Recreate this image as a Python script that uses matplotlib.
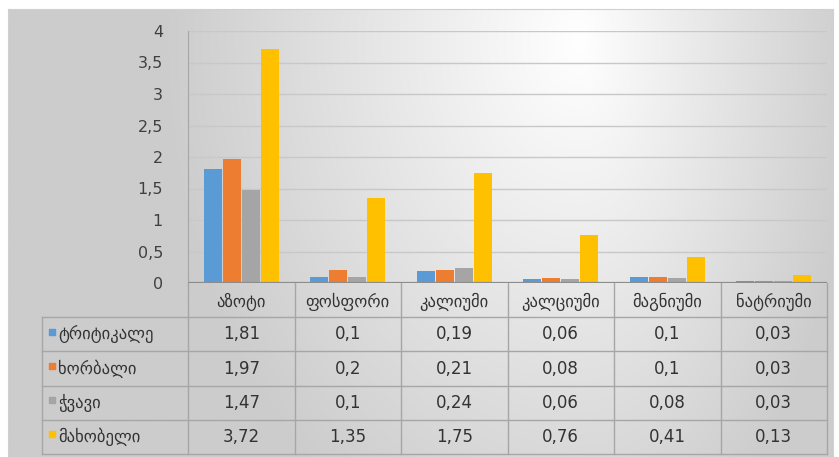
import numpy as np
import matplotlib
matplotlib.use('Agg')
import matplotlib.pyplot as plt

plt.rcParams['font.family'] = ['DejaVu Sans']

categories = ['აზოტი', 'ფოსფორი', 'კალიუმი', 'კალციუმი', 'მაგნიუმი', 'ნატრიუმი']
series_names = ['ტრიტიკალე', 'ხორბალი', 'ჭვავი', 'მახობელი']
triticale = [1.81, 0.1, 0.19, 0.06, 0.1, 0.03]
wheat = [1.97, 0.2, 0.21, 0.08, 0.1, 0.03]
rye = [1.47, 0.1, 0.24, 0.06, 0.08, 0.03]
makhobeli = [3.72, 1.35, 1.75, 0.76, 0.41, 0.13]
series = [triticale, wheat, rye, makhobeli]
colors = ['#5B9BD5', '#ED7D31', '#A5A5A5', '#FFC000']
yticks = [0, 0.5, 1, 1.5, 2, 2.5, 3, 3.5, 4]

W, H = 839, 457
fig = plt.figure(figsize=(W / 100, H / 100), dpi=100)
fig.patch.set_facecolor('white')


def box(x0, y0, x1, y1):
    # pixel box (top-left origin) -> figure fraction rect
    return [x0 / W, 1 - y1 / H, (x1 - x0) / W, (y1 - y0) / H]


# gradient background panel
bg = fig.add_axes(box(8, 9, 833, 457), zorder=0)
gx = np.linspace(8, 833, 300)
gy = np.linspace(9, 457, 150)
XX, YY = np.meshgrid(gx, gy)
sx = np.where(XX < 580, 420, 280)
d = np.sqrt(((XX - 580) / sx) ** 2 + ((YY - 40) / 560) ** 2)
val = np.clip(1.0 - 0.2 * d, 0.8, 1)
bg.imshow(np.dstack([val, val, val]), aspect='auto', extent=[0, 1, 0, 1])
bg.set_xlim(0, 1)
bg.set_ylim(0, 1)
for s in bg.spines.values():
    s.set_color('#d0d0d0')
bg.set_xticks([])
bg.set_yticks([])

# main bar chart
ax = fig.add_axes(box(188, 31, 827, 283), zorder=2)
ax.patch.set_alpha(0)
x = np.arange(len(categories))
slot = 0.178
bw = 0.168
for i, (vals, c) in enumerate(zip(series, colors)):
    ax.bar(x + (i - 1.5) * slot, vals, width=bw, color=c, zorder=3)
ax.set_xlim(-0.5, len(categories) - 0.5)
ax.set_ylim(0, 4)
ax.set_yticks(yticks)
ax.set_yticklabels([str(t).replace('.', ',').replace(',0', '') if t != 0 else '0' for t in yticks])
ax.tick_params(axis='y', length=0, pad=18, labelsize=11.5, labelcolor='#404040')
ax.set_xticks([])
ax.grid(axis='y', color='#c8c8c8', linewidth=1, zorder=0)
for s in ['top', 'right', 'bottom']:
    ax.spines[s].set_visible(False)
ax.spines['left'].set_color('#a6a6a6')
ax.axhline(0, color='#8c8c8c', linewidth=1.6, zorder=4)

# data table
tb = fig.add_axes(box(42, 283, 827, 454), zorder=2)
tb.patch.set_alpha(0)
left = -0.5 - 146 / 106.5
tb.set_xlim(left, len(categories) - 0.5)
tb.set_ylim(5, 0)
tb.axis('off')
lc = '#a6a6a6'
for i in range(len(categories) + 1):
    tb.plot([i - 0.5, i - 0.5], [0, 5], color=lc, lw=1, clip_on=False)
tb.plot([left, left], [1, 5], color=lc, lw=1, clip_on=False)
for r in range(1, 6):
    tb.plot([left, len(categories) - 0.5], [r, r], color=lc, lw=1, clip_on=False)

txt = '#333333'
for j, cat in enumerate(categories):
    tb.text(j, 0.55, cat, ha='center', va='center', fontsize=12, color=txt)
for r, (name, vals, c) in enumerate(zip(series_names, series, colors)):
    yc = r + 1.5
    tb.scatter([left + 10 / 106.5], [yc - 0.08], marker='s', s=24, color=c, clip_on=False)
    tb.text(left + 16 / 106.5, yc, name, ha='left', va='center', fontsize=12, color=txt)
    for j, v in enumerate(vals):
        tb.text(j, yc, str(v).replace('.', ','), ha='center', va='center', fontsize=12, color=txt)

fig.savefig('out.png', dpi=100)
